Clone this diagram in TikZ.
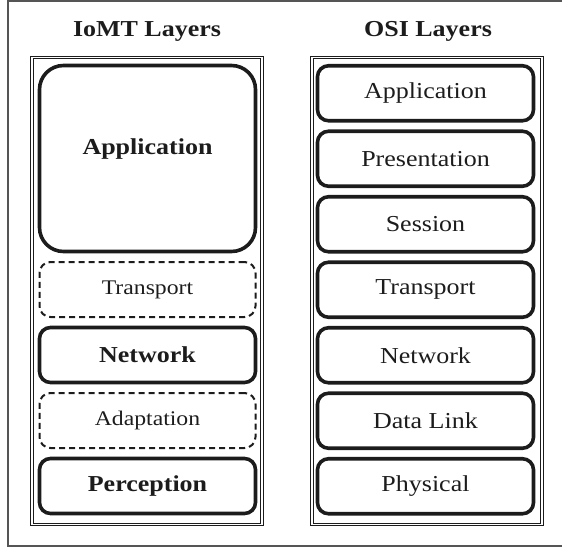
\documentclass[tikz,border=0pt]{standalone}
\usepackage{fontspec}
\setmainfont{Liberation Serif}[FakeStretch=1.14]
\usepackage{tikz}
\usetikzlibrary{positioning}

\definecolor{inkdark}{HTML}{1C1C1C}
\definecolor{framegray}{HTML}{555555}

\begin{document}
\begin{tikzpicture}[
  x=1pt, y=-1pt,
  node distance=10.5pt,
  layer/.style={draw=inkdark, rounded corners=11pt, line width=3.6pt, align=center,
    minimum width=216pt, minimum height=55pt, inner sep=0pt, outer sep=0pt, text=inkdark,
    font=\fontsize{22.8}{24}\selectfont},
  core/.style={layer, font=\fontsize{22.8}{24}\selectfont\bfseries},
  optional/.style={layer, line width=2pt, dash pattern=on 6pt off 4pt,
    font=\fontsize{20.8}{22}\selectfont},
  heading/.style={anchor=base, text=inkdark, font=\fontsize{22.8}{24}\selectfont\bfseries},
  frame/.style={draw=inkdark, double, double distance=1.2pt, line width=1pt}
]
\useasboundingbox (0,0) rectangle (562,548);
\draw[framegray, line width=1.4pt] (8,1) rectangle (566,546);

% IoMT side
\node[heading] (iomttitle) at (147,37) {IoMT Layers};
\draw[frame] (32,57.5) rectangle (262,524.5);
\node[core, minimum height=186pt, rounded corners=24pt, text depth=23pt] (iomtapp) at (147.5,158.5) {Application};
\node[optional, below=of iomtapp] (iomttrans) {Transport};
\node[core, below=of iomttrans] (iomtnet) {Network};
\node[optional, below=of iomtnet] (iomtadapt) {Adaptation};
\node[core, below=of iomtadapt] (iomtperc) {Perception};

% OSI side
\node[heading] (osititle) at (428,37) {OSI Layers};
\draw[frame] (312,57.5) rectangle (542,524.5);
\node[layer] (osiapp) at (425.5,93.25) {Application};
\node[layer, below=of osiapp] (osipres) {Presentation};
\node[layer, below=of osipres] (osisess) {Session};
\node[layer, below=of osisess] (ositrans) {Transport};
\node[layer, below=of ositrans] (osinet) {Network};
\node[layer, below=of osinet] (osilink) {Data Link};
\node[layer, below=of osilink] (osiphys) {Physical};
\end{tikzpicture}
\end{document}
